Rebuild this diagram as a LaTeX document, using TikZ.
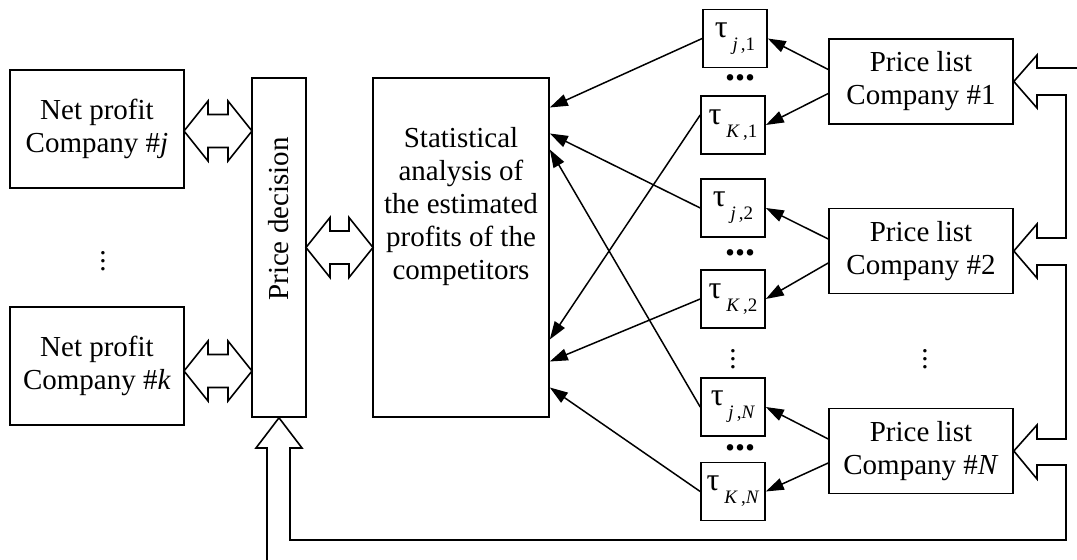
\documentclass[tikz,border=0pt]{standalone}
\usepackage{fontspec}
\setmainfont{Liberation Serif}
\usetikzlibrary{arrows.meta}

\tikzset{
  box/.style={draw, line width=0.8pt, align=center, inner sep=0pt},
  taubox/.style={box, minimum width=32pt, minimum height=29pt},
  link/.style={line width=0.75pt, -{Triangle[length=9pt,width=6pt]}},
  pipe/.style={line width=0.8pt},
  hdots/.style={font=\fontsize{20}{20}\selectfont\bfseries},
}
\newcommand{\tauidx}[2]{{\fontsize{16}{16}\selectfont τ}\,\raisebox{-6.5pt}{\fontsize{9.5}{9.5}\selectfont\textit{#1}\,,#2}}

\begin{document}
\begin{tikzpicture}[x=0.5pt, y=-0.5pt, font=\fontsize{14.5}{16.5}\selectfont]
        \newcommand{\figDblArr}[3]{%
          \draw[pipe] (#1,#3) -- (#1+24,#3-30) -- (#1+24,#3-16.5) -- (#2-24,#3-16.5) -- (#2-24,#3-30)
            -- (#2,#3) -- (#2-24,#3+30) -- (#2-24,#3+16.5) -- (#1+24,#3+16.5) -- (#1+24,#3+30) -- cycle;}
        \useasboundingbox (0,0) rectangle (1077,560);
        % companies
        \node[box, minimum width=87pt, minimum height=59pt] (netj) at (97,129) {Net profit\\Company \#\textit{j}};
        \node[box, minimum width=87pt, minimum height=59pt] (netk) at (97,366) {Net profit\\Company \#\textit{k}};
        \node (vdl) at (103,255) {$\vdots$};
        % decision and analysis
        \node[box, minimum width=27pt, minimum height=169.5pt] (dec) at (279,247.5) {};
        \node[rotate=90] (dectext) at (279,219) {Price decision};
        \node[box, minimum width=88pt, minimum height=169.5pt] (stat) at (461,247.5) {};
        \node[align=center] (stattext) at (461,207) {Statistical\\analysis of\\the estimated\\profits of the\\competitors};
        \figDblArr{184}{252}{131}
        \figDblArr{184}{252}{371}
        \figDblArr{306}{373}{247.5}
        % taus
        \node[taubox] (tj1) at (735,38.5) {\tauidx{j}{1}};
        \node[taubox] (tK1) at (733,125) {\tauidx{K}{1}};
        \node[taubox] (tj2) at (733,208) {\tauidx{j}{2}};
        \node[taubox] (tK2) at (733,299) {\tauidx{K}{2}};
        \node[taubox] (tjN) at (733,407) {\tauidx{j}{\textit{N}}};
        \node[taubox] (tKN) at (733,491.5) {\tauidx{K}{\textit{N}}};
        \node[hdots] (hd1) at (740,78) {...};
        \node[hdots] (hd2) at (740,253) {...};
        \node[hdots] (hd3) at (740,448) {...};
        \node (vdt) at (733,353) {$\vdots$};
        % price lists
        \node[box, minimum width=92pt, minimum height=42.5pt] (pl1) at (921,81.5) {Price list\\Company \#1};
        \node[box, minimum width=92pt, minimum height=42.5pt] (pl2) at (921,251) {Price list\\Company \#2};
        \node[box, minimum width=92pt, minimum height=42.5pt] (plN) at (921,451) {Price list\\Company \#\textit{N}};
        \node (vdr) at (925,353) {$\vdots$};
        % price list -> tau
        \draw[link] ([yshift=6pt]pl1.west) -- (tj1.east);
        \draw[link] ([yshift=-6pt]pl1.west) -- (tK1.east);
        \draw[link] ([yshift=6pt]pl2.west) -- (tj2.east);
        \draw[link] ([yshift=-6pt]pl2.west) -- (tK2.east);
        \draw[link] ([yshift=6pt]plN.west) -- (tjN.east);
        \draw[link] ([yshift=-6pt]plN.west) -- (tKN.east);
        % tau -> analysis
        \draw[link] (tj1.west) -- ([yshift=70pt]stat.east);
        \draw[link] ([yshift=5pt]tK1.west) -- ([yshift=-46pt]stat.east);
        \draw[link] (tj2.west) -- ([yshift=57pt]stat.east);
        \draw[link] (tK2.west) -- ([yshift=-57pt]stat.east);
        \draw[link] (tjN.west) -- ([yshift=49pt]stat.east);
        \draw[link] (tKN.west) -- ([yshift=-70pt]stat.east);
        % feedback pipe
        \draw[pipe] (267,560) -- (267,448) -- (256,448) -- (dec.south) -- (302,448) -- (290,448) -- (290,540)
          -- (1066,540) -- (1066,465) -- (1037,465) -- (1037,479) -- (plN.east) -- (1037,425) -- (1037,439)
          -- (1066,439) -- (1066,265) -- (1037,265) -- (1037,278) -- (pl2.east) -- (1037,224) -- (1037,238)
          -- (1066,238) -- (1066,95) -- (1037,95) -- (1037,108) -- (pl1.east) -- (1037,55) -- (1037,68) -- (1077,68);
\end{tikzpicture}
\end{document}
